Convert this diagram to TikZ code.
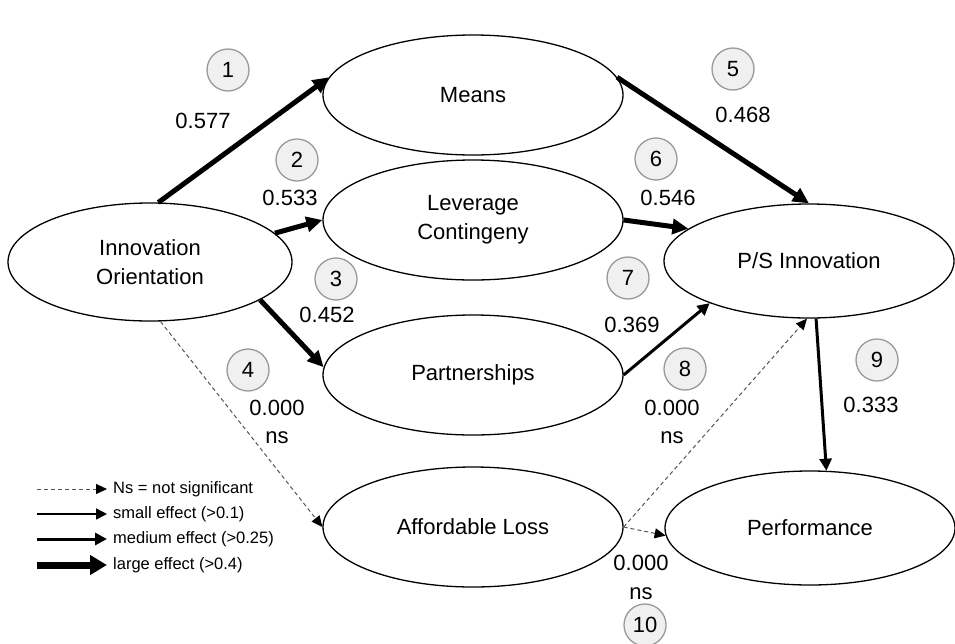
\documentclass[tikz,border=0pt]{standalone}
\usepackage{fontspec}
\setmainfont{Liberation Sans}
\usetikzlibrary{arrows.meta,shapes.geometric}
\definecolor{ring}{HTML}{999999}
\definecolor{ringfill}{HTML}{F0F0F0}
\definecolor{nsgray}{HTML}{555555}
\tikzset{every node/.style={draw=none,inner sep=0pt,font=\fontsize{22}{29}\selectfont},
  construct/.style={draw,ellipse,line width=1.3pt,minimum width=300pt,minimum height=120pt,align=center},
  num/.style={circle,draw=ring,fill=ringfill,line width=1.3pt,minimum size=42pt},
  legtext/.style={anchor=west,font=\fontsize{16.5}{20}\selectfont},
  ns/.style={draw=nsgray,line width=1pt,dash pattern=on 4pt off 3pt,-{Triangle[length=11pt,width=10pt,color=black]}},
  small/.style={line width=1.5pt,-{Triangle[length=11pt,width=11pt]}},
  medium/.style={line width=3pt,-{Triangle[length=12pt,width=12pt]}},
  large/.style={line width=5pt,-{Triangle[length=16pt,width=15pt]}},
  leglarge/.style={line width=7pt,-{Triangle[length=17pt,width=19pt]}}}

\begin{document}
\begin{tikzpicture}[x=1pt,y=-1pt]
      \useasboundingbox (0,0) rectangle (955,643);
      % constructs
      \node[construct,minimum width=284pt,minimum height=118pt] (io) at (150,262) {Innovation\\Orientation};
      \node[construct] (means) at (473,95) {Means};
      \node[construct] (lc) at (473,220) {Leverage\\Contingeny};
      \node[construct] (pa) at (473,375) {Partnerships};
      \node[construct] (al) at (473,527) {Affordable Loss};
      \node[construct,minimum width=290pt,minimum height=114pt] (ps) at (809,261) {P/S Innovation};
      \node[construct,minimum width=290pt,minimum height=114pt] (pf) at (810,528) {Performance};

      % path numbers
\foreach \n/\x/\y in {1/228/70,2/297/160,3/336/279,4/248/370,5/733/69,6/656/159,7/628/278,8/685/369,9/877/360,10/645/625}
  \node[num] (c\n) at (\x,\y) {\n};

      % coefficients
      \node (v1) at (203,121) {0.577};
      \node (v2) at (290,198) {0.533};
      \node (v3) at (327,315) {0.452};
      \node (v4) at (277,408) {0.000};
      \node (s4) at (277,438) {ns};
      \node (v5) at (743,115) {0.468};
      \node (v6) at (668,198) {0.546};
      \node (v7) at (632,325) {0.369};
      \node (v8) at (672,408) {0.000};
      \node (s8) at (672,438) {ns};
      \node (v9) at (871,405) {0.333};
      \node (v10) at (641,563) {0.000};
      \node (s10) at (641,594) {ns};

      % paths
      \draw[large] (io.82) -- (means.173);
      \draw[large] (io.13) -- (lc.west);
      \draw[large] (io.-19) -- (pa.177);
      \draw[ns] (io.-80) -- (al.west);
      \draw[large] (means.7) -- (ps.north);
      \draw[large] (lc.east) -- (ps.165);
      \draw[medium] (pa.east) -- (ps.203);
      \draw[ns] (al.east) -- (ps.-92);
      \draw[medium] (ps.-83) -- (pf.74);
      \draw[ns] (al.east) -- (pf.183);

      % legend
      \coordinate (a1) at (37,489);  \coordinate (b1) at (107,489);
      \coordinate (a2) at (37,514);  \coordinate (b2) at (107,514);
      \coordinate (a3) at (37,539);  \coordinate (b3) at (107,539);
      \coordinate (a4) at (37,565);  \coordinate (b4) at (107,565);
      \draw[ns] (a1) -- (b1);
      \draw[small] (a2) -- (b2);
      \draw[medium] (a3) -- (b3);
      \draw[leglarge] (a4) -- (b4);
      \node[legtext] (t1) at (113,489) {Ns = not significant};
      \node[legtext] (t2) at (113,514) {small effect (>0.1)};
      \node[legtext] (t3) at (113,539) {medium effect (>0.25)};
      \node[legtext] (t4) at (113,565) {large effect (>0.4)};
    \end{tikzpicture}
\end{document}
